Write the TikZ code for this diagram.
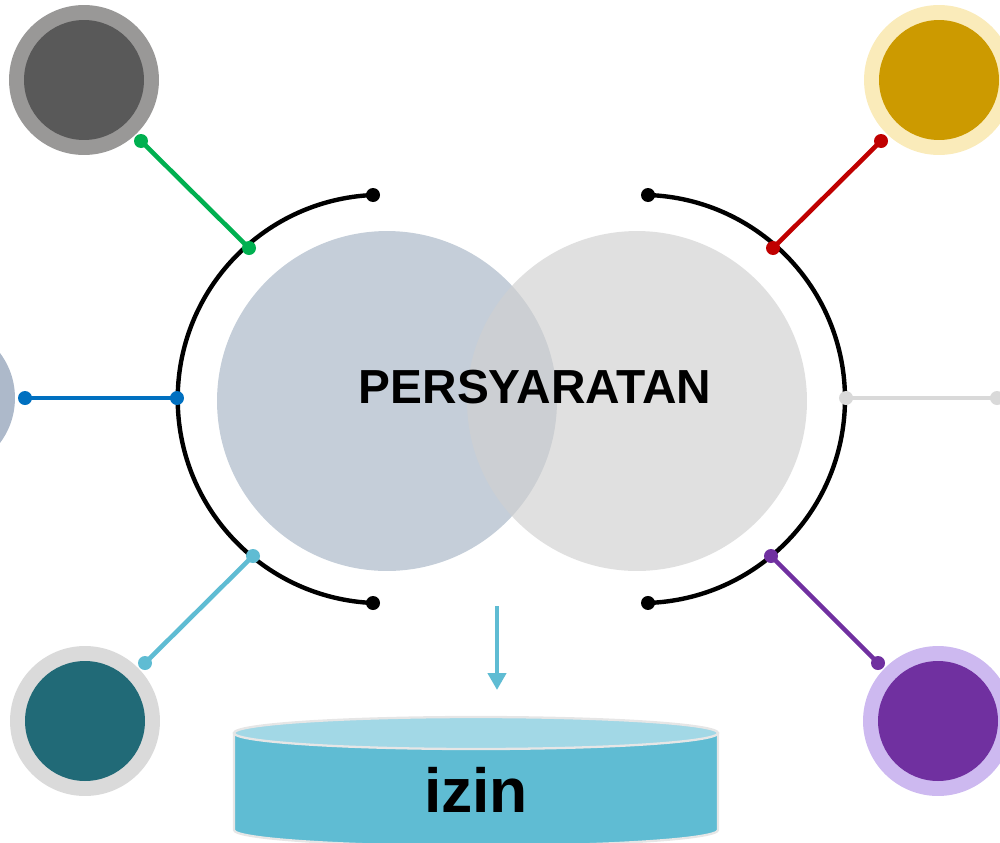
\documentclass[tikz,border=0pt]{standalone}
\usepackage{fontspec}
\setmainfont{Liberation Sans}
\usetikzlibrary{arrows.meta}
\definecolor{leftbig}{HTML}{C5CED9}
\definecolor{rightbig}{HTML}{D0D0D0}
\definecolor{cgreen}{HTML}{00B050}
\definecolor{cred}{HTML}{C00000}
\definecolor{cblue}{HTML}{0070C0}
\definecolor{cgray}{HTML}{D9D9D9}
\definecolor{ccyan}{HTML}{5FBCD3}
\definecolor{cpurple}{HTML}{7030A0}
\definecolor{ogray}{HTML}{999897}
\definecolor{igray}{HTML}{595959}
\definecolor{oyellow}{HTML}{FAEBBA}
\definecolor{iyellow}{HTML}{CC9A00}
\definecolor{oblue}{HTML}{ADB9CA}
\definecolor{iblue}{HTML}{44546A}
\definecolor{olgray}{HTML}{DADADA}
\definecolor{iteal}{HTML}{216A77}
\definecolor{opurple}{HTML}{CDB9F0}
\definecolor{ipurple}{HTML}{7030A0}
\definecolor{cyltop}{HTML}{A2D8E6}
\definecolor{cylline}{HTML}{E6E6E6}
\begin{document}
\begin{tikzpicture}[x=0.02cm,y=-0.02cm,
  outerc/.style={circle,minimum size=3cm,inner sep=0pt},
  innerc/.style={circle,minimum size=2.4cm,inner sep=0pt},
  bigc/.style={circle,minimum size=6.8cm,inner sep=0pt},
  conn/.style={line width=2.6pt},
  dotc/.style={circle,minimum size=0.28cm,inner sep=0pt},
  arcline/.style={line width=2.5pt,black}]
\useasboundingbox (0,0) rectangle (1000,842);
\clip (0,0) rectangle (1000,842);
% big circles
\node[bigc,fill=leftbig] (bigL) at (387,401) {};
\node[bigc,fill=rightbig,fill opacity=0.65] (bigR) at (637,401) {};
\node[font=\bfseries\fontsize{27.2}{31}\selectfont] (title) at (535,387) {PERSYARATAN};
% arcs
\draw[arcline] (373,195) coordinate (aL1) arc[start angle=267.5,end angle=92.5,radius=204.2] coordinate (aL2);
\draw[arcline] (648,195) coordinate (aR1) arc[start angle=-88,end angle=88,radius=204.1] coordinate (aR2);
\foreach \p in {aL1,aL2,aR1,aR2} \node[dotc,fill=black] at (\p) {};
% satellites
\node[outerc,fill=ogray] (s1o) at (84,80) {};
\node[innerc,fill=igray] (s1) at (84,80) {};
\node[outerc,fill=oyellow] (s2o) at (939,80) {};
\node[innerc,fill=iyellow] (s2) at (939,80) {};
\node[outerc,fill=oblue] (s3o) at (-60,398) {};
\node[innerc,fill=iblue] (s3) at (-60,398) {};
\node[outerc,fill=olgray] (s5o) at (85,721) {};
\node[innerc,fill=iteal] (s5) at (85,721) {};
\node[outerc,fill=opurple] (s6o) at (938,721) {};
\node[innerc,fill=ipurple] (s6) at (938,721) {};
% connector end points
\coordinate (g1) at (141,141); \coordinate (g2) at (249,248);
\coordinate (r1) at (881,141); \coordinate (r2) at (773,248);
\coordinate (b1) at (25,398);  \coordinate (b2) at (177,398);
\coordinate (k1) at (997,398); \coordinate (k2) at (846,398);
\coordinate (c1) at (145,663); \coordinate (c2) at (253,556);
\coordinate (p1) at (878,663); \coordinate (p2) at (771,556);
\foreach \a/\b/\c in {g1/g2/cgreen,r1/r2/cred,b1/b2/cblue,k1/k2/cgray,c1/c2/ccyan,p1/p2/cpurple}{
  \draw[conn,\c] (\a) -- (\b);
  \node[dotc,fill=\c] at (\a) {};
  \node[dotc,fill=\c] at (\b) {};
}
% arrow
\coordinate (arrS) at (497,606);
\coordinate (arrE) at (497,690);
\draw[ccyan,line width=2.8pt,-{Triangle[width=0.36cm,length=0.34cm]}] (arrS) -- (arrE);
% cylinder
\draw[fill=ccyan,draw=cylline,line width=1.3pt] (234,733) -- (234,830) arc[start angle=180,end angle=0,x radius=242,y radius=16] -- (718,733) -- cycle;
\draw[fill=cyltop,draw=cylline,line width=1.3pt] (476,733) ellipse[x radius=242,y radius=16];
\node[font=\bfseries\fontsize{35.5}{40}\selectfont] (izin) at (476,790) {izin};
\end{tikzpicture}
\end{document}
